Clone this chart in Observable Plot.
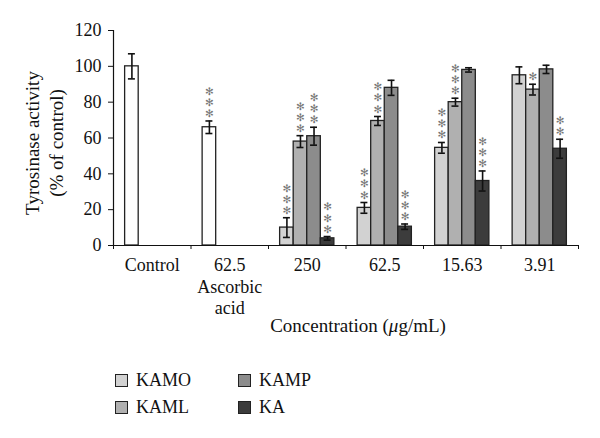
<!DOCTYPE html>
<html><head><meta charset="utf-8">
<script src="https://cdn.jsdelivr.net/npm/d3@7"></script>
<script src="https://cdn.jsdelivr.net/npm/@observablehq/plot@0.6"></script>
<style>
body{margin:0;background:#fff;font-family:"Liberation Serif",serif;}
#legend{display:grid;grid-template-columns:123px 123px;grid-template-rows:27px 27px;grid-auto-flow:column;margin:22px 0 0 115px;font-size:18px;color:#111}
.item{display:flex;align-items:center}
.sw{width:11px;height:11px;border:1px solid #222;margin-right:8px}
</style></head><body><div id="chart"></div><div id="legend"></div>
<script>
const categoryLabels = ["Control", "62.5\nAscorbic\nacid", "250", "62.5", "15.63", "3.91"];
const seriesNames = ["KAMO", "KAML", "KAMP", "KA"];
const seriesColors = ["#d2d2d2", "#b0b0b0", "#8c8c8c", "#3c3c3c"];

const referenceValues = [100, 66];
const referenceErrors = [7, 3.5];
const referenceStars = [0, 3];

const kamoValues = [10, 21, 54.5, 95];
const kamoErrors = [5.5, 3, 3, 4.7];
const kamoStars = [3, 3, 3, 0];
const kamlValues = [58, 69.5, 80, 87];
const kamlErrors = [3.3, 2.5, 2.2, 3];
const kamlStars = [3, 3, 3, 1];
const kampValues = [61, 88, 98, 98.3];
const kampErrors = [5, 4.2, 1.2, 2.3];
const kampStars = [3, 0, 0, 0];
const kaValues = [4, 10.5, 36, 54];
const kaErrors = [1, 1.5, 5.6, 5.3];
const kaStars = [3, 3, 3, 2];

const seriesData = [
  {values: kamoValues, errors: kamoErrors, stars: kamoStars},
  {values: kamlValues, errors: kamlErrors, stars: kamlStars},
  {values: kampValues, errors: kampErrors, stars: kampStars},
  {values: kaValues, errors: kaErrors, stars: kaStars}
];

const rows = [];
referenceValues.forEach((v, i) => rows.push({cat: i, slot: 0, group: "Reference", value: v, err: referenceErrors[i], stars: referenceStars[i]}));
seriesData.forEach((s, j) => s.values.forEach((v, i) => rows.push({cat: i + 2, slot: j, group: seriesNames[j], value: v, err: s.errors[i], stars: s.stars[i]})));

const groupSpan = 0.7, barW = groupSpan / 4, capW = 0.045;
const center = d => d.cat + 0.5 + (d.slot - 1.5) * barW;

const chart = Plot.plot({
  width: 600, height: 345,
  marginLeft: 113, marginRight: 22, marginTop: 30, marginBottom: 100,
  style: {fontFamily: "Liberation Serif", fontSize: "18px", color: "#111", background: "white"},
  x: {type: "linear", domain: [0, 6]},
  y: {domain: [0, 120]},
  color: {domain: [...seriesNames, "Reference"], range: [...seriesColors, "#ffffff"]},
  marks: [
    Plot.rectY(rows, {x1: d => center(d) - barW / 2, x2: d => center(d) + barW / 2, y1: 0, y2: "value", fill: "group", stroke: "#222", strokeWidth: 1.3}),
    Plot.ruleX(rows, {x: center, y1: d => d.value - d.err, y2: d => d.value + d.err, stroke: "#111", strokeWidth: 1.6}),
    Plot.ruleY(rows, {y: d => d.value - d.err, x1: d => center(d) - capW, x2: d => center(d) + capW, stroke: "#111", strokeWidth: 1.6}),
    Plot.ruleY(rows, {y: d => d.value + d.err, x1: d => center(d) - capW, x2: d => center(d) + capW, stroke: "#111", strokeWidth: 1.6}),
    Plot.text(rows.filter(d => d.stars > 0), {x: center, y: d => d.value + d.err, text: d => Array(d.stars).fill("✻").join("\n"), lineAnchor: "bottom", lineHeight: 1.05, fontSize: 10.5, fontFamily: "DejaVu Sans", fill: "#777", dy: -4}),
    Plot.ruleX([0], {stroke: "#111", strokeWidth: 1.2}),
    Plot.ruleY([0], {stroke: "#111", strokeWidth: 1.2}),
    Plot.axisY({ticks: d3.range(0, 121, 20), tickSize: 5, tickPadding: 7, label: null}),
    Plot.axisX({ticks: d3.range(0, 7), tickSize: 4, tickFormat: () => "", label: null}),
    Plot.axisX({ticks: d3.range(0.5, 6, 1), tickSize: 0, tickPadding: 11, tickFormat: d => categoryLabels[Math.floor(d)], lineHeight: 1.17, label: null}),
    Plot.text(["Tyrosinase activity\n(% of control)"], {frameAnchor: "left", textAnchor: "middle", rotate: -90, dx: -70, dy: 5, lineHeight: 1.25, fontSize: 19}),
    Plot.text(["Concentration (μg/mL)"], {frameAnchor: "bottom", dx: 12, dy: 86, fontSize: 19})
  ]
});
document.getElementById("chart").appendChild(chart);

d3.select(chart).selectAll("text").each(function() {
  if (this.textContent === "Concentration (μg/mL)") {
    this.innerHTML = 'Concentration (<tspan font-style="italic">μ</tspan>g/mL)';
  }
});

const legend = d3.select("#legend");
seriesNames.forEach((name, i) => {
  const item = legend.append("div").attr("class", "item");
  item.append("div").attr("class", "sw").style("background", seriesColors[i]);
  item.append("span").text(name);
});
</script></body></html>
